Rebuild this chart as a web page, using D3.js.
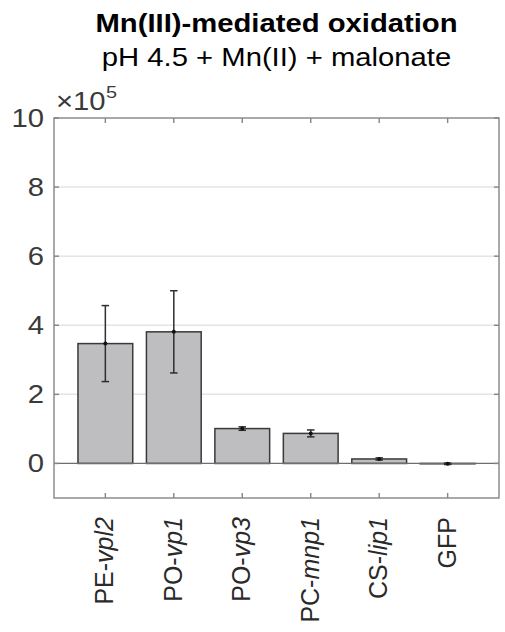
<!DOCTYPE html>
<html>
<head>
<meta charset="utf-8">
<script src="https://cdn.jsdelivr.net/npm/d3@7"></script>
<style>
  html, body { margin: 0; padding: 0; background: #fff; }
  svg { display: block; font-family: "Liberation Sans", Arial, Helvetica, sans-serif; }
</style>
</head>
<body>
<svg id="chart" width="505" height="632"></svg>
<script>
// Enzyme construct labels: plain prefix + italic gene name
const categories = ["PE-vpl2", "PO-vp1", "PO-vp3", "PC-mnp1", "CS-lip1", "GFP"];
const labelPrefix = ["PE-", "PO-", "PO-", "PC-", "CS-", "GFP"];
const labelItalic = ["vpl2", "vp1", "vp3", "mnp1", "lip1", ""];
// Mean signal (×10^5) and error (±)
const meanValues = [3.47, 3.81, 1.01, 0.87, 0.13, -0.01];
const errorValues = [1.10, 1.19, 0.05, 0.10, 0.03, 0.02];
const yTicks = [0, 2, 4, 6, 8, 10];
const yDomain = [-1, 10];
const titleText = "Mn(III)-mediated oxidation";
const subtitleText = "pH 4.5 + Mn(II) + malonate";

const svg = d3.select("#chart");
const box = { left: 54, right: 499, top: 118, bottom: 498 };
const STRETCH = 1.17; // horizontal text widening
const FONT = 25;

const x = d3.scaleLinear().domain([0.25, categories.length + 0.75]).range([box.left, box.right]);
const y = d3.scaleLinear().domain(yDomain).range([box.bottom, box.top]);
const barW = x(1.8) - x(1);
const capW = x(1.11) - x(1);

// stretched horizontal text helper
function wideText(parent, px, py, str, opts) {
  const g = parent.append("g").attr("transform", `translate(${px},${py}) scale(${STRETCH},1)`);
  const t = g.append("text").text(str)
    .attr("font-size", opts.size || FONT)
    .attr("text-anchor", opts.anchor || "start")
    .attr("fill", opts.fill || "#333")
    .attr("font-weight", opts.weight || "normal");
  return t;
}

// grid lines
svg.append("g").selectAll("line").data(yTicks.filter(d => d !== 0 && d !== 10)).join("line")
  .attr("x1", box.left).attr("x2", box.right)
  .attr("y1", d => y(d)).attr("y2", d => y(d))
  .attr("stroke", "#e4e4e4").attr("stroke-width", 1.5);

// bars
svg.append("g").selectAll("rect").data(meanValues).join("rect")
  .attr("x", (d, i) => x(i + 1) - barW / 2)
  .attr("width", barW)
  .attr("y", d => y(Math.max(0, d)))
  .attr("height", d => Math.abs(y(d) - y(0)))
  .attr("fill", "#bebec0")
  .attr("stroke", "#3a3a3a").attr("stroke-width", 1.5);

// baseline at zero
svg.append("line")
  .attr("x1", box.left).attr("x2", box.right)
  .attr("y1", y(0)).attr("y2", y(0))
  .attr("stroke", "#6e6e6e").attr("stroke-width", 1.3);

// error bars
const eb = svg.append("g").attr("stroke", "#2e2e2e").attr("stroke-width", 1.5);
meanValues.forEach((m, i) => {
  const cx = x(i + 1), e = errorValues[i];
  eb.append("line").attr("x1", cx).attr("x2", cx).attr("y1", y(m + e)).attr("y2", y(m - e));
  eb.append("line").attr("x1", cx - capW / 2).attr("x2", cx + capW / 2).attr("y1", y(m + e)).attr("y2", y(m + e));
  eb.append("line").attr("x1", cx - capW / 2).attr("x2", cx + capW / 2).attr("y1", y(m - e)).attr("y2", y(m - e));
  eb.append("circle").attr("cx", cx).attr("cy", y(m)).attr("r", 2).attr("fill", "#111").attr("stroke", "none");
});

// axes box with inward ticks
const axisColor = "#858585";
svg.append("rect")
  .attr("x", box.left).attr("y", box.top)
  .attr("width", box.right - box.left).attr("height", box.bottom - box.top)
  .attr("fill", "none").attr("stroke", axisColor).attr("stroke-width", 1.4);

const tickG = svg.append("g").attr("stroke", axisColor).attr("stroke-width", 1.4);
yTicks.forEach(t => {
  tickG.append("line").attr("x1", box.left).attr("x2", box.left + 5).attr("y1", y(t)).attr("y2", y(t));
  tickG.append("line").attr("x1", box.right).attr("x2", box.right - 5).attr("y1", y(t)).attr("y2", y(t));
});
categories.forEach((c, i) => {
  const cx = x(i + 1);
  tickG.append("line").attr("x1", cx).attr("x2", cx).attr("y1", box.bottom).attr("y2", box.bottom - 5);
  tickG.append("line").attr("x1", cx).attr("x2", cx).attr("y1", box.top).attr("y2", box.top + 5);
});

// y tick labels
yTicks.forEach(t => {
  wideText(svg, 44, y(t) + 9, String(t), { anchor: "end", fill: "#3a3a3a" });
});

// exponent label
wideText(svg, 56, 110, "×10", { fill: "#3a3a3a" });
wideText(svg, 106, 98, "5", { size: 17, fill: "#3a3a3a" });

// category labels (rotated)
categories.forEach((c, i) => {
  const t = svg.append("text")
    .attr("transform", `translate(${x(i + 1) + 8},517) rotate(-90)`)
    .attr("text-anchor", "end")
    .attr("font-size", FONT)
    .attr("fill", "#2a2a2a");
  t.append("tspan").text(labelPrefix[i]);
  if (labelItalic[i]) t.append("tspan").attr("font-style", "italic").text(labelItalic[i]);
});

// title and subtitle
const cxTitle = (box.left + box.right) / 2;
wideText(svg, cxTitle, 32, titleText, { anchor: "middle", weight: "bold", fill: "#000" });
wideText(svg, cxTitle, 66, subtitleText, { anchor: "middle", fill: "#000" });
</script>
</body>
</html>
